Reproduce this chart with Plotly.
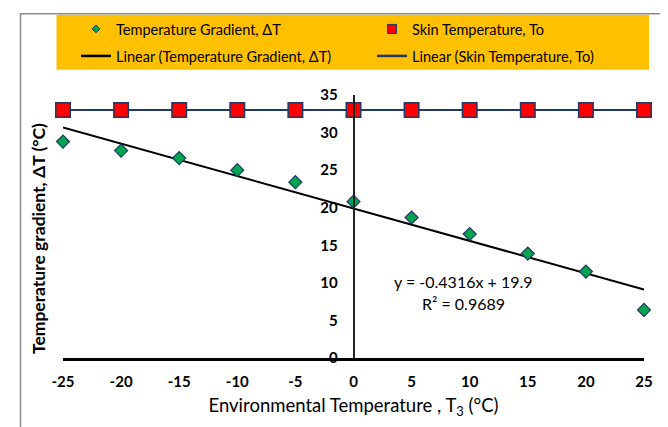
import numpy as np
import plotly.graph_objects as go

# ---------------- data ----------------
env_temp = [-25, -20, -15, -10, -5, 0, 5, 10, 15, 20, 25]
temp_gradient = [28.8, 27.6, 26.6, 25.0, 23.4, 20.8, 18.7, 16.5, 13.9, 11.5, 6.4]
skin_temp = [33, 33, 33, 33, 33, 33, 33, 33, 33, 33, 33]
trend_slope = -0.4316
trend_intercept = 19.9
trend_r2 = 0.9689
x_ticks = [-25, -20, -15, -10, -5, 0, 5, 10, 15, 20, 25]
y_ticks = [0, 5, 10, 15, 20, 25, 30, 35]

name_grad = "Temperature Gradient, ΔT"
name_skin = "Skin Temperature, To"
name_lin_grad = "Linear (Temperature Gradient, ΔT)"
name_lin_skin = "Linear (Skin Temperature, To)"

# ---------------- layout constants ----------------
W, H = 668, 427
L, R, T, B = 55, 32, 87, 77
PW, PH = W - L - R, H - T - B
FONT = "Lato, 'Open Sans', sans-serif"
NAVY = "#1F3864"
GREEN = "#00A550"
RED = "#FF0000"


def px_x(p):
    return (p - L) / PW


def px_y(p):
    return (H - B - p) / PH


x_end = np.array([min(env_temp), max(env_temp)], dtype=float)
grad_line = trend_slope * x_end + trend_intercept
skin_fit = np.polyfit(env_temp, skin_temp, 1)
skin_line = np.polyval(skin_fit, x_end)

fig = go.Figure()

# trend lines
fig.add_trace(go.Scatter(x=x_end, y=grad_line, mode="lines",
                         line=dict(color="black", width=2),
                         showlegend=False, cliponaxis=False, hoverinfo="skip"))
fig.add_trace(go.Scatter(x=x_end, y=skin_line, mode="lines",
                         line=dict(color=NAVY, width=2),
                         showlegend=False, cliponaxis=False, hoverinfo="skip"))
# markers
fig.add_trace(go.Scatter(x=env_temp, y=temp_gradient, mode="markers", name=name_grad,
                         marker=dict(symbol="diamond", size=10, color=GREEN,
                                     line=dict(color=NAVY, width=1.2)),
                         showlegend=False, cliponaxis=False))
fig.add_trace(go.Scatter(x=env_temp, y=skin_temp, mode="markers", name=name_skin,
                         marker=dict(symbol="square", size=14.5, color=RED,
                                     line=dict(color=NAVY, width=1.5)),
                         showlegend=False, cliponaxis=False))

# legend entries (no points), one legend per entry for exact placement
fig.add_trace(go.Scatter(x=[None], y=[None], mode="markers", name=name_grad,
                         marker=dict(symbol="diamond", size=6, color=GREEN,
                                     line=dict(color=NAVY, width=1)),
                         legend="legend"))
fig.add_trace(go.Scatter(x=[None], y=[None], mode="markers", name=name_skin,
                         marker=dict(symbol="square", size=9, color=RED,
                                     line=dict(color=NAVY, width=1)),
                         legend="legend2"))
fig.add_trace(go.Scatter(x=[None], y=[None], mode="lines", name=name_lin_grad,
                         line=dict(color="black", width=2.5), legend="legend3"))
fig.add_trace(go.Scatter(x=[None], y=[None], mode="lines", name=name_lin_skin,
                         line=dict(color=NAVY, width=2.5), legend="legend4"))

LEG_FS = 14.5
leg_common = dict(orientation="h", xref="container", yref="container",
                  xanchor="left", yanchor="middle", bgcolor="rgba(0,0,0,0)",
                  font=dict(family=FONT, size=LEG_FS, color="black"),
                  itemclick=False, itemdoubleclick=False)
col1, col2 = 68, 364
row1, row2 = 21, 48

fig.update_layout(
    width=W, height=H,
    margin=dict(l=L, r=R, t=T, b=B, autoexpand=False),
    paper_bgcolor="white", plot_bgcolor="white",
    font=dict(family=FONT, color="black"),
    legend=dict(x=col1 / W, y=1 - row1 / H, **leg_common),
    legend2=dict(x=col2 / W, y=1 - row1 / H, **leg_common),
    legend3=dict(x=col1 / W, y=1 - row2 / H, **leg_common),
    legend4=dict(x=col2 / W, y=1 - row2 / H, **leg_common),
    xaxis=dict(range=[-25, 25], tickvals=x_ticks, ticktext=[str(v) for v in x_ticks],
               showgrid=False, zeroline=False, showline=True, linecolor="black",
               linewidth=2.5, ticks="", ticklabelstandoff=8,
               tickfont=dict(family=FONT, size=15, color="black", weight="bold"),
               title=dict(text="Environmental Temperature , T<sub>3</sub> (°C)",
                          font=dict(family=FONT, size=18.5, color="black"), standoff=11)),
    yaxis=dict(range=[0, 35], tickvals=y_ticks, ticktext=[str(v) for v in y_ticks],
               anchor="free", position=0.5, side="left",
               showgrid=False, zeroline=False, showline=True, linecolor="#222222",
               linewidth=1.5, ticks="", ticklabelstandoff=12,
               tickfont=dict(family=FONT, size=15, color="black", weight="bold")),
    shapes=[
        dict(type="rect", xref="paper", yref="paper", layer="below",
             x0=px_x(48.5), x1=px_x(641), y0=px_y(61.7), y1=px_y(6.7),
             fillcolor="#FFC000", line=dict(width=0)),
        dict(type="rect", xref="paper", yref="paper", layer="below",
             x0=px_x(12.5), x1=px_x(659), y0=px_y(445), y1=px_y(5.7),
             fillcolor="rgba(0,0,0,0)", line=dict(color="#8C8C8C", width=1.5)),
    ],
    annotations=[
        dict(text="Temperature gradient, ΔT (°C)", textangle=-90,
             xref="paper", yref="paper", x=px_x(30), y=px_y(231),
             showarrow=False, xanchor="center", yanchor="middle",
             font=dict(family=FONT, size=17.5, color="black", weight="bold")),
        dict(text=f"y = {trend_slope}x + {trend_intercept}",
             xref="paper", yref="paper", x=px_x(455), y=px_y(273),
             showarrow=False, xanchor="center", yanchor="middle",
             font=dict(family=FONT, size=16, color="black")),
        dict(text=f"R² = {trend_r2}",
             xref="paper", yref="paper", x=px_x(455), y=px_y(295),
             showarrow=False, xanchor="center", yanchor="middle",
             font=dict(family=FONT, size=16, color="black")),
    ],
)

fig.write_html("out.html")
